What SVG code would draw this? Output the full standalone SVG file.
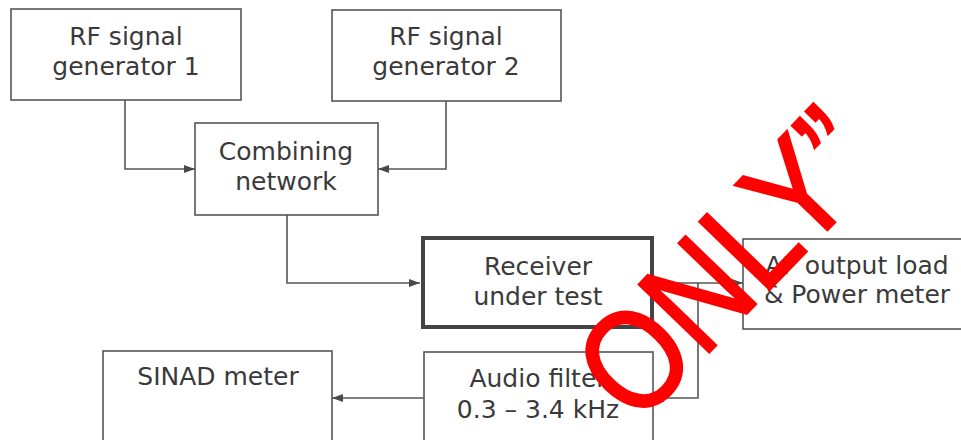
<svg xmlns="http://www.w3.org/2000/svg" width="961" height="440" viewBox="0 0 961 440">
<style>
.box{fill:#fff;stroke:#555;stroke-width:1.6}
.thick{fill:#fff;stroke:#444;stroke-width:4}
.lbl{font-family:"DejaVu Sans",Verdana,sans-serif;font-size:25px;fill:#3a3a3a;text-anchor:middle}
.wire{fill:none;stroke:#555;stroke-width:1.6}
.wm{font-family:"Liberation Sans",Arial,sans-serif;font-size:142px;fill:#ff0000;stroke:#ff0000;stroke-width:2.5;stroke-linejoin:miter}
</style>
<defs>
<marker id="arr" viewBox="0 0 11 8" refX="11" refY="4" markerWidth="11" markerHeight="8" markerUnits="userSpaceOnUse" orient="auto">
<path d="M0,0 L11,4 L0,8 Z" fill="#4a4a4a"/>
</marker>
</defs>
<rect width="961" height="440" fill="#fff"/>
<g id="connectors">
<path class="wire" d="M125,100 V169 H195" marker-end="url(#arr)"/>
<path class="wire" d="M446,101 V169 H378" marker-end="url(#arr)"/>
<path class="wire" d="M287,215 V283 H420" marker-end="url(#arr)"/>
<path class="wire" d="M655,283 H743" marker-end="url(#arr)"/>
<path class="wire" d="M698,283 V398 H653" marker-end="url(#arr)"/>
<path class="wire" d="M424,398 H332" marker-end="url(#arr)"/>
</g>
<g id="rfgen1">
<rect class="box" x="11" y="9" width="230" height="91"/>
<text class="lbl" x="126" y="45">RF signal</text>
<text class="lbl" x="126" y="75">generator 1</text>
</g>
<g id="rfgen2">
<rect class="box" x="332" y="10" width="229" height="91"/>
<text class="lbl" x="446" y="45">RF signal</text>
<text class="lbl" x="446" y="75">generator 2</text>
</g>
<g id="combining">
<rect class="box" x="195" y="123" width="183" height="92"/>
<text class="lbl" x="286" y="160">Combining</text>
<text class="lbl" x="286" y="190">network</text>
</g>
<g id="receiver">
<rect class="thick" x="423" y="238" width="229" height="89"/>
<text class="lbl" x="538" y="275">Receiver</text>
<text class="lbl" x="538" y="305">under test</text>
</g>
<g id="afload">
<rect class="box" x="743" y="239" width="240" height="90"/>
<text class="lbl" x="857" y="274">AF output load</text>
<text class="lbl" x="857" y="303">&amp; Power meter</text>
</g>
<g id="audiofilter">
<rect class="box" x="424" y="352" width="229" height="110"/>
<text class="lbl" x="538" y="387">Audio filter</text>
<text class="lbl" x="538" y="418">0.3 – 3.4 kHz</text>
</g>
<g id="sinad">
<rect class="box" x="103" y="351" width="229" height="110"/>
<text class="lbl" x="218" y="385">SINAD meter</text>
</g>
<text class="wm" transform="translate(637,427) rotate(-46) scale(0.85,1)">ONLY”</text>
</svg>
